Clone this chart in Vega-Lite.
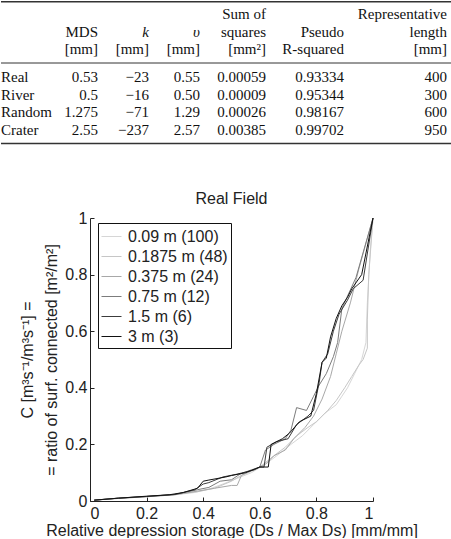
{
  "$schema": "https://vega.github.io/schema/vega-lite/v6.json",
  "padding": 0,
  "spacing": 44,
  "background": "white",
  "config": {
    "view": {"stroke": null},
    "font": "Liberation Sans",
    "axis": {"labelFont": "Liberation Sans", "titleFont": "Liberation Sans"}
  },
  "resolve": {
    "scale": {"color": "independent", "strokeWidth": "independent"},
    "legend": {"color": "independent", "strokeWidth": "independent"}
  },
  "datasets": {
    "cells": [
      {"r": 0, "c": 4, "t": "Sum of", "kind": "head"},
      {"r": 0, "c": 6, "t": "Representative", "kind": "head"},
      {"r": 1, "c": 1, "t": "MDS", "kind": "head"},
      {"r": 1, "c": 2, "t": "k", "kind": "sym"},
      {"r": 1, "c": 3, "t": "υ", "kind": "sym"},
      {"r": 1, "c": 4, "t": "squares", "kind": "head"},
      {"r": 1, "c": 5, "t": "Pseudo", "kind": "head"},
      {"r": 1, "c": 6, "t": "length", "kind": "head"},
      {"r": 2, "c": 1, "t": "[mm]", "kind": "head"},
      {"r": 2, "c": 2, "t": "[mm]", "kind": "head"},
      {"r": 2, "c": 3, "t": "[mm]", "kind": "head"},
      {"r": 2, "c": 4, "t": "[mm²]", "kind": "head"},
      {"r": 2, "c": 5, "t": "R-squared", "kind": "head"},
      {"r": 2, "c": 6, "t": "[mm]", "kind": "head"},
      {"r": 3.6, "c": 0, "t": "Real", "kind": "label"},
      {"r": 3.6, "c": 1, "t": "0.53", "kind": "val"},
      {"r": 3.6, "c": 2, "t": "−23", "kind": "val"},
      {"r": 3.6, "c": 3, "t": "0.55", "kind": "val"},
      {"r": 3.6, "c": 4, "t": "0.00059", "kind": "val"},
      {"r": 3.6, "c": 5, "t": "0.93334", "kind": "val"},
      {"r": 3.6, "c": 6, "t": "400", "kind": "val"},
      {"r": 4.6, "c": 0, "t": "River", "kind": "label"},
      {"r": 4.6, "c": 1, "t": "0.5", "kind": "val"},
      {"r": 4.6, "c": 2, "t": "−16", "kind": "val"},
      {"r": 4.6, "c": 3, "t": "0.50", "kind": "val"},
      {"r": 4.6, "c": 4, "t": "0.00009", "kind": "val"},
      {"r": 4.6, "c": 5, "t": "0.95344", "kind": "val"},
      {"r": 4.6, "c": 6, "t": "300", "kind": "val"},
      {"r": 5.6, "c": 0, "t": "Random", "kind": "label"},
      {"r": 5.6, "c": 1, "t": "1.275", "kind": "val"},
      {"r": 5.6, "c": 2, "t": "−71", "kind": "val"},
      {"r": 5.6, "c": 3, "t": "1.29", "kind": "val"},
      {"r": 5.6, "c": 4, "t": "0.00026", "kind": "val"},
      {"r": 5.6, "c": 5, "t": "0.98167", "kind": "val"},
      {"r": 5.6, "c": 6, "t": "600", "kind": "val"},
      {"r": 6.6, "c": 0, "t": "Crater", "kind": "label"},
      {"r": 6.6, "c": 1, "t": "2.55", "kind": "val"},
      {"r": 6.6, "c": 2, "t": "−237", "kind": "val"},
      {"r": 6.6, "c": 3, "t": "2.57", "kind": "val"},
      {"r": 6.6, "c": 4, "t": "0.00385", "kind": "val"},
      {"r": 6.6, "c": 5, "t": "0.99702", "kind": "val"},
      {"r": 6.6, "c": 6, "t": "950", "kind": "val"}
    ],
    "rules": [
      {"r": -0.7, "c0": 0, "c1": 7, "kind": "outer"},
      {"r": 2.8, "c0": 0, "c1": 7, "kind": "inner"},
      {"r": 7.4, "c0": 0, "c1": 7, "kind": "outer"}
    ],
    "curves": [
      {"s": "0.09 m (100)", "i": 0, "x": 0.015, "y": 0.003},
      {"s": "0.09 m (100)", "i": 1, "x": 0.1, "y": 0.009},
      {"s": "0.09 m (100)", "i": 2, "x": 0.2, "y": 0.015},
      {"s": "0.09 m (100)", "i": 3, "x": 0.3, "y": 0.022},
      {"s": "0.09 m (100)", "i": 4, "x": 0.37, "y": 0.03},
      {"s": "0.09 m (100)", "i": 5, "x": 0.42, "y": 0.042},
      {"s": "0.09 m (100)", "i": 6, "x": 0.47, "y": 0.06},
      {"s": "0.09 m (100)", "i": 7, "x": 0.52, "y": 0.08},
      {"s": "0.09 m (100)", "i": 8, "x": 0.57, "y": 0.1},
      {"s": "0.09 m (100)", "i": 9, "x": 0.62, "y": 0.13},
      {"s": "0.09 m (100)", "i": 10, "x": 0.66, "y": 0.16},
      {"s": "0.09 m (100)", "i": 11, "x": 0.71, "y": 0.2},
      {"s": "0.09 m (100)", "i": 12, "x": 0.75, "y": 0.23},
      {"s": "0.09 m (100)", "i": 13, "x": 0.79, "y": 0.27},
      {"s": "0.09 m (100)", "i": 14, "x": 0.83, "y": 0.31},
      {"s": "0.09 m (100)", "i": 15, "x": 0.87, "y": 0.34},
      {"s": "0.09 m (100)", "i": 16, "x": 0.89, "y": 0.37},
      {"s": "0.09 m (100)", "i": 17, "x": 0.91, "y": 0.4},
      {"s": "0.09 m (100)", "i": 18, "x": 0.935, "y": 0.45},
      {"s": "0.09 m (100)", "i": 19, "x": 0.96, "y": 0.5},
      {"s": "0.09 m (100)", "i": 20, "x": 0.975, "y": 0.56},
      {"s": "0.09 m (100)", "i": 21, "x": 0.98, "y": 0.7},
      {"s": "0.09 m (100)", "i": 22, "x": 0.99, "y": 0.88},
      {"s": "0.09 m (100)", "i": 23, "x": 1, "y": 1},
      {"s": "0.1875 m (48)", "i": 0, "x": 0.015, "y": 0.003},
      {"s": "0.1875 m (48)", "i": 1, "x": 0.1, "y": 0.01},
      {"s": "0.1875 m (48)", "i": 2, "x": 0.2, "y": 0.016},
      {"s": "0.1875 m (48)", "i": 3, "x": 0.3, "y": 0.023},
      {"s": "0.1875 m (48)", "i": 4, "x": 0.38, "y": 0.033},
      {"s": "0.1875 m (48)", "i": 5, "x": 0.44, "y": 0.045},
      {"s": "0.1875 m (48)", "i": 6, "x": 0.5, "y": 0.07},
      {"s": "0.1875 m (48)", "i": 7, "x": 0.55, "y": 0.1},
      {"s": "0.1875 m (48)", "i": 8, "x": 0.6, "y": 0.12},
      {"s": "0.1875 m (48)", "i": 9, "x": 0.65, "y": 0.16},
      {"s": "0.1875 m (48)", "i": 10, "x": 0.69, "y": 0.19},
      {"s": "0.1875 m (48)", "i": 11, "x": 0.73, "y": 0.23},
      {"s": "0.1875 m (48)", "i": 12, "x": 0.77, "y": 0.26},
      {"s": "0.1875 m (48)", "i": 13, "x": 0.8, "y": 0.28},
      {"s": "0.1875 m (48)", "i": 14, "x": 0.84, "y": 0.32},
      {"s": "0.1875 m (48)", "i": 15, "x": 0.87, "y": 0.355},
      {"s": "0.1875 m (48)", "i": 16, "x": 0.9, "y": 0.4},
      {"s": "0.1875 m (48)", "i": 17, "x": 0.925, "y": 0.44},
      {"s": "0.1875 m (48)", "i": 18, "x": 0.95, "y": 0.48},
      {"s": "0.1875 m (48)", "i": 19, "x": 0.965, "y": 0.5},
      {"s": "0.1875 m (48)", "i": 20, "x": 0.98, "y": 0.54},
      {"s": "0.1875 m (48)", "i": 21, "x": 0.98, "y": 0.64},
      {"s": "0.1875 m (48)", "i": 22, "x": 0.985, "y": 0.8},
      {"s": "0.1875 m (48)", "i": 23, "x": 1, "y": 1},
      {"s": "0.375 m (24)", "i": 0, "x": 0.015, "y": 0.003},
      {"s": "0.375 m (24)", "i": 1, "x": 0.1, "y": 0.009},
      {"s": "0.375 m (24)", "i": 2, "x": 0.2, "y": 0.015},
      {"s": "0.375 m (24)", "i": 3, "x": 0.3, "y": 0.022},
      {"s": "0.375 m (24)", "i": 4, "x": 0.38, "y": 0.035},
      {"s": "0.375 m (24)", "i": 5, "x": 0.44, "y": 0.045},
      {"s": "0.375 m (24)", "i": 6, "x": 0.5, "y": 0.055},
      {"s": "0.375 m (24)", "i": 7, "x": 0.52, "y": 0.055},
      {"s": "0.375 m (24)", "i": 8, "x": 0.535, "y": 0.09},
      {"s": "0.375 m (24)", "i": 9, "x": 0.58, "y": 0.11},
      {"s": "0.375 m (24)", "i": 10, "x": 0.62, "y": 0.13},
      {"s": "0.375 m (24)", "i": 11, "x": 0.65, "y": 0.16},
      {"s": "0.375 m (24)", "i": 12, "x": 0.69, "y": 0.18},
      {"s": "0.375 m (24)", "i": 13, "x": 0.72, "y": 0.22},
      {"s": "0.375 m (24)", "i": 14, "x": 0.76, "y": 0.26},
      {"s": "0.375 m (24)", "i": 15, "x": 0.79, "y": 0.3},
      {"s": "0.375 m (24)", "i": 16, "x": 0.82, "y": 0.36},
      {"s": "0.375 m (24)", "i": 17, "x": 0.85, "y": 0.44},
      {"s": "0.375 m (24)", "i": 18, "x": 0.87, "y": 0.52},
      {"s": "0.375 m (24)", "i": 19, "x": 0.89, "y": 0.6},
      {"s": "0.375 m (24)", "i": 20, "x": 0.92, "y": 0.7},
      {"s": "0.375 m (24)", "i": 21, "x": 0.95, "y": 0.82},
      {"s": "0.375 m (24)", "i": 22, "x": 1, "y": 1},
      {"s": "0.75 m (12)", "i": 0, "x": 0.015, "y": 0.003},
      {"s": "0.75 m (12)", "i": 1, "x": 0.1, "y": 0.01},
      {"s": "0.75 m (12)", "i": 2, "x": 0.2, "y": 0.016},
      {"s": "0.75 m (12)", "i": 3, "x": 0.3, "y": 0.023},
      {"s": "0.75 m (12)", "i": 4, "x": 0.38, "y": 0.04},
      {"s": "0.75 m (12)", "i": 5, "x": 0.42, "y": 0.048},
      {"s": "0.75 m (12)", "i": 6, "x": 0.46, "y": 0.07},
      {"s": "0.75 m (12)", "i": 7, "x": 0.5, "y": 0.075},
      {"s": "0.75 m (12)", "i": 8, "x": 0.53, "y": 0.095},
      {"s": "0.75 m (12)", "i": 9, "x": 0.57, "y": 0.11},
      {"s": "0.75 m (12)", "i": 10, "x": 0.6, "y": 0.12},
      {"s": "0.75 m (12)", "i": 11, "x": 0.62, "y": 0.18},
      {"s": "0.75 m (12)", "i": 12, "x": 0.65, "y": 0.2},
      {"s": "0.75 m (12)", "i": 13, "x": 0.69, "y": 0.22},
      {"s": "0.75 m (12)", "i": 14, "x": 0.71, "y": 0.25},
      {"s": "0.75 m (12)", "i": 15, "x": 0.73, "y": 0.33},
      {"s": "0.75 m (12)", "i": 16, "x": 0.765, "y": 0.32},
      {"s": "0.75 m (12)", "i": 17, "x": 0.79, "y": 0.37},
      {"s": "0.75 m (12)", "i": 18, "x": 0.81, "y": 0.41},
      {"s": "0.75 m (12)", "i": 19, "x": 0.835, "y": 0.45},
      {"s": "0.75 m (12)", "i": 20, "x": 0.86, "y": 0.51},
      {"s": "0.75 m (12)", "i": 21, "x": 0.875, "y": 0.56},
      {"s": "0.75 m (12)", "i": 22, "x": 0.89, "y": 0.68},
      {"s": "0.75 m (12)", "i": 23, "x": 0.94, "y": 0.79},
      {"s": "0.75 m (12)", "i": 24, "x": 1, "y": 1},
      {"s": "1.5 m (6)", "i": 0, "x": 0.015, "y": 0.003},
      {"s": "1.5 m (6)", "i": 1, "x": 0.1, "y": 0.01},
      {"s": "1.5 m (6)", "i": 2, "x": 0.2, "y": 0.016},
      {"s": "1.5 m (6)", "i": 3, "x": 0.3, "y": 0.023},
      {"s": "1.5 m (6)", "i": 4, "x": 0.37, "y": 0.04},
      {"s": "1.5 m (6)", "i": 5, "x": 0.4, "y": 0.06},
      {"s": "1.5 m (6)", "i": 6, "x": 0.42, "y": 0.065},
      {"s": "1.5 m (6)", "i": 7, "x": 0.47, "y": 0.085},
      {"s": "1.5 m (6)", "i": 8, "x": 0.52, "y": 0.095},
      {"s": "1.5 m (6)", "i": 9, "x": 0.58, "y": 0.11},
      {"s": "1.5 m (6)", "i": 10, "x": 0.6, "y": 0.12},
      {"s": "1.5 m (6)", "i": 11, "x": 0.615, "y": 0.12},
      {"s": "1.5 m (6)", "i": 12, "x": 0.625, "y": 0.19},
      {"s": "1.5 m (6)", "i": 13, "x": 0.66, "y": 0.21},
      {"s": "1.5 m (6)", "i": 14, "x": 0.7, "y": 0.22},
      {"s": "1.5 m (6)", "i": 15, "x": 0.73, "y": 0.27},
      {"s": "1.5 m (6)", "i": 16, "x": 0.77, "y": 0.3},
      {"s": "1.5 m (6)", "i": 17, "x": 0.79, "y": 0.32},
      {"s": "1.5 m (6)", "i": 18, "x": 0.81, "y": 0.42},
      {"s": "1.5 m (6)", "i": 19, "x": 0.82, "y": 0.49},
      {"s": "1.5 m (6)", "i": 20, "x": 0.84, "y": 0.52},
      {"s": "1.5 m (6)", "i": 21, "x": 0.86, "y": 0.6},
      {"s": "1.5 m (6)", "i": 22, "x": 0.88, "y": 0.66},
      {"s": "1.5 m (6)", "i": 23, "x": 0.91, "y": 0.71},
      {"s": "1.5 m (6)", "i": 24, "x": 0.93, "y": 0.75},
      {"s": "1.5 m (6)", "i": 25, "x": 0.965, "y": 0.78},
      {"s": "1.5 m (6)", "i": 26, "x": 1, "y": 1},
      {"s": "3 m (3)", "i": 0, "x": 0.015, "y": 0.003},
      {"s": "3 m (3)", "i": 1, "x": 0.1, "y": 0.01},
      {"s": "3 m (3)", "i": 2, "x": 0.2, "y": 0.017},
      {"s": "3 m (3)", "i": 3, "x": 0.28, "y": 0.022},
      {"s": "3 m (3)", "i": 4, "x": 0.33, "y": 0.03},
      {"s": "3 m (3)", "i": 5, "x": 0.38, "y": 0.045},
      {"s": "3 m (3)", "i": 6, "x": 0.4, "y": 0.07},
      {"s": "3 m (3)", "i": 7, "x": 0.42, "y": 0.074},
      {"s": "3 m (3)", "i": 8, "x": 0.48, "y": 0.085},
      {"s": "3 m (3)", "i": 9, "x": 0.5, "y": 0.09},
      {"s": "3 m (3)", "i": 10, "x": 0.55, "y": 0.1},
      {"s": "3 m (3)", "i": 11, "x": 0.6, "y": 0.12},
      {"s": "3 m (3)", "i": 12, "x": 0.63, "y": 0.12},
      {"s": "3 m (3)", "i": 13, "x": 0.64, "y": 0.2},
      {"s": "3 m (3)", "i": 14, "x": 0.68, "y": 0.22},
      {"s": "3 m (3)", "i": 15, "x": 0.705, "y": 0.24},
      {"s": "3 m (3)", "i": 16, "x": 0.74, "y": 0.28},
      {"s": "3 m (3)", "i": 17, "x": 0.78, "y": 0.3},
      {"s": "3 m (3)", "i": 18, "x": 0.8, "y": 0.38},
      {"s": "3 m (3)", "i": 19, "x": 0.82, "y": 0.49},
      {"s": "3 m (3)", "i": 20, "x": 0.835, "y": 0.505},
      {"s": "3 m (3)", "i": 21, "x": 0.85, "y": 0.58},
      {"s": "3 m (3)", "i": 22, "x": 0.87, "y": 0.645},
      {"s": "3 m (3)", "i": 23, "x": 0.89, "y": 0.69},
      {"s": "3 m (3)", "i": 24, "x": 0.91, "y": 0.72},
      {"s": "3 m (3)", "i": 25, "x": 0.925, "y": 0.75},
      {"s": "3 m (3)", "i": 26, "x": 0.96, "y": 0.8},
      {"s": "3 m (3)", "i": 27, "x": 1, "y": 1}
    ]
  },
  "vconcat": [
    {
      "width": 283,
      "height": 147,
      "layer": [
        {
          "data": {"name": "rules"},
          "transform": [{"filter": "datum.kind === 'outer'"}],
          "mark": {"type": "rule", "color": "#333", "strokeWidth": 1.6},
          "encoding": {
            "x": {"field": "c0", "type": "quantitative"},
            "x2": {"field": "c1"},
            "y": {"field": "r", "type": "quantitative"}
          }
        },
        {
          "data": {"name": "rules"},
          "transform": [{"filter": "datum.kind === 'inner'"}],
          "mark": {"type": "rule", "color": "#333", "strokeWidth": 1},
          "encoding": {
            "x": {"field": "c0", "type": "quantitative"},
            "x2": {"field": "c1"},
            "y": {"field": "r", "type": "quantitative"}
          }
        },
        {
          "data": {"name": "cells"},
          "transform": [{"filter": "datum.kind === 'label'"}],
          "mark": {"type": "text", "align": "left", "baseline": "middle", "font": "Liberation Serif", "fontSize": 15, "color": "#111"},
          "encoding": {
            "x": {"field": "c", "type": "quantitative"},
            "y": {"field": "r", "type": "quantitative"},
            "text": {"field": "t"}
          }
        },
        {
          "data": {"name": "cells"},
          "transform": [{"filter": "datum.kind === 'val' || datum.kind === 'head'"}],
          "mark": {"type": "text", "align": "right", "baseline": "middle", "font": "Liberation Serif", "fontSize": 15, "color": "#111"},
          "encoding": {
            "x": {"field": "c", "type": "quantitative"},
            "y": {"field": "r", "type": "quantitative"},
            "text": {"field": "t"}
          }
        },
        {
          "data": {"name": "cells"},
          "transform": [{"filter": "datum.kind === 'sym'"}],
          "mark": {"type": "text", "align": "right", "baseline": "middle", "font": "Liberation Serif", "fontStyle": "italic", "fontSize": 15, "color": "#111"},
          "encoding": {
            "x": {"field": "c", "type": "quantitative"},
            "y": {"field": "r", "type": "quantitative"},
            "text": {"field": "t"}
          }
        }
      ],
      "encoding": {
        "x": {"type": "quantitative", "scale": {"domain": [0, 1, 2, 3, 4, 5, 6, 7], "range": [-89, 8, 59, 110, 176, 254, 357, 361], "nice": false, "zero": false}, "axis": null},
        "y": {"type": "quantitative", "scale": {"domain": [-0.8, 7.6], "reverse": true, "nice": false, "zero": false}, "axis": null}
      }
    },
    {
      "width": 283,
      "height": 283,
      "title": {"text": "Real Field", "fontSize": 16, "font": "Liberation Sans", "fontWeight": "normal", "color": "#222", "offset": 3, "frame": "group"},
      "data": {"name": "curves"},
      "mark": {"type": "line", "clip": false},
      "encoding": {
        "x": {
          "field": "x", "type": "quantitative",
          "scale": {"domain": [0, 1], "nice": false},
          "axis": {
            "title": "Relative depression storage (Ds / Max Ds) [mm/mm]",
            "values": [0, 0.2, 0.4, 0.6, 0.8, 1], "format": "~g",
            "grid": false, "tickSize": -4, "labelPadding": 8,
            "labelFontSize": 16, "labelColor": "#222", "domainColor": "#222", "tickColor": "#222",
            "titleFontSize": 16, "titleFontWeight": "normal", "titleColor": "#222", "titlePadding": 1
          }
        },
        "y": {
          "field": "y", "type": "quantitative",
          "scale": {"domain": [0, 1], "nice": false},
          "axis": {
            "title": ["C [m³s⁻¹/m³s⁻¹] =", "= ratio of surf. connected [m²/m²]"],
            "values": [0, 0.2, 0.4, 0.6, 0.8, 1], "format": "~g",
            "grid": false, "tickSize": -4, "labelPadding": 7,
            "labelFontSize": 16, "labelColor": "#222", "domainColor": "#222", "tickColor": "#222",
            "titleFontSize": 16, "titleFontWeight": "normal", "titleColor": "#222", "titlePadding": 5, "titleLineHeight": 24
          }
        },
        "color": {
          "field": "s", "type": "nominal",
          "scale": {"domain": ["0.09 m (100)", "0.1875 m (48)", "0.375 m (24)", "0.75 m (12)", "1.5 m (6)", "3 m (3)"],
                    "range": ["#d6d6d6", "#c6c6c6", "#a8a8a8", "#7c7c7c", "#3c3c3c", "#111111"]},
          "legend": {"title": null, "orient": "none", "legendX": 8, "legendY": 5, "symbolType": "stroke", "symbolSize": 400,
                     "labelFontSize": 16, "labelColor": "#222", "labelOffset": 6, "labelLimit": 300,
                     "strokeColor": "#111", "fillColor": "white", "padding": 3, "rowPadding": 1}
        },
        "strokeWidth": {
          "field": "s", "type": "nominal",
          "scale": {"domain": ["0.09 m (100)", "0.1875 m (48)", "0.375 m (24)", "0.75 m (12)", "1.5 m (6)", "3 m (3)"],
                    "range": [1, 1, 1, 1.2, 1.5, 2.2]},
          "legend": {"title": null, "orient": "none", "legendX": 8, "legendY": 5, "symbolType": "stroke", "symbolSize": 400,
                     "labelFontSize": 16, "labelColor": "#222", "labelOffset": 6, "labelLimit": 300,
                     "strokeColor": "#111", "fillColor": "white", "padding": 3, "rowPadding": 1}
        },
        "order": {"field": "i", "type": "quantitative"}
      }
    }
  ]
}
